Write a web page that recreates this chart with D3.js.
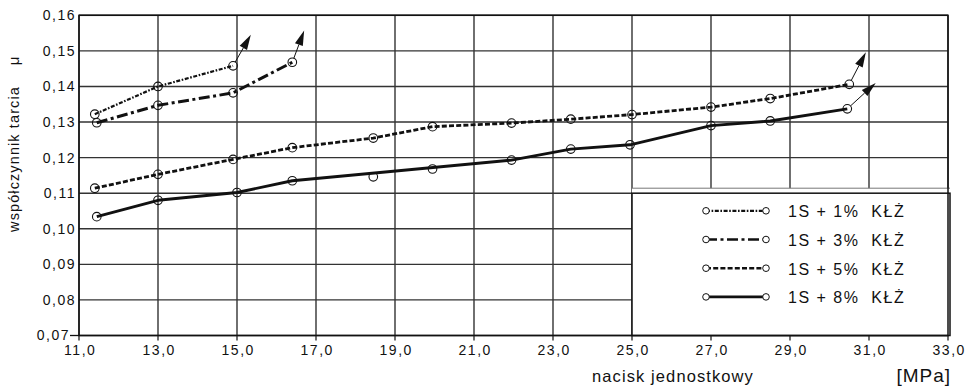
<!DOCTYPE html>
<html>
<head>
<meta charset="utf-8">
<script src="https://d3js.org/d3.v7.min.js"></script>
<style>
  body { margin: 0; background: #fff; }
  svg text { font-family: "Liberation Sans", Arial, sans-serif; fill: #111; }
</style>
</head>
<body>
<svg width="965" height="391"></svg>
<script>
// data
var labels = ["1S + 1%  KŁŻ", "1S + 3%  KŁŻ", "1S + 5%  KŁŻ", "1S + 8%  KŁŻ"];

var s1x = [11.4, 13.0, 14.9];
var s1y = [0.1322, 0.1400, 0.1458];

var s3x = [11.45, 13.0, 14.9, 16.4];
var s3y = [0.1298, 0.1347, 0.1382, 0.1468];

var s5x = [11.4, 13.0, 14.9, 16.4, 18.45, 19.95, 21.95, 23.45, 25.0, 27.0, 28.5, 30.5];
var s5y = [0.1114, 0.1153, 0.1195, 0.1228, 0.1255, 0.1287, 0.1297, 0.1308, 0.1321, 0.1342, 0.1366, 0.1406];

var s8x = [11.45, 13.0, 15.0, 16.4, 18.45, 19.95, 21.95, 23.45, 24.95, 27.0, 28.5, 30.45];
var s8y = [0.1034, 0.1080, 0.1102, 0.1135, 0.1146, 0.1168, 0.1193, 0.1224, 0.1236, 0.1290, 0.1303, 0.1337];
// points 18.45 and 19.95 sit off the drawn line
var s8onLine = [1, 1, 1, 1, 0, 0, 1, 1, 1, 1, 1, 1];

// arrow tips at the end of each curve
var tipX = [15.35, 16.7, 30.92, 31.17];
var tipY = [0.1545, 0.1557, 0.1496, 0.1410];

var xTicks = [11, 13, 15, 17, 19, 21, 23, 25, 27, 29, 31, 33];
var yTicks = [0.07, 0.08, 0.09, 0.10, 0.11, 0.12, 0.13, 0.14, 0.15, 0.16];

function draw() {
  var pl = 79, pr = 948, pt = 15.3, pb = 335.5;

  var svg = d3.select("svg");
  var xs = d3.scaleLinear().domain([11, 33]).range([pl, pr]);
  var ys = d3.scaleLinear().domain([0.07, 0.16]).range([pb, pt]);

  var comma = function(f) { return function(d) { return d3.format(f)(d).replace(".", ","); }; };

  // grid
  svg.append("g").selectAll("line").data(xTicks).enter().append("line")
    .attr("x1", d => xs(d)).attr("x2", d => xs(d))
    .attr("y1", pt).attr("y2", pb + 5)
    .attr("stroke", "#333").attr("stroke-width", 1.4);
  svg.append("g").selectAll("line").data(yTicks).enter().append("line")
    .attr("x1", pl).attr("x2", pr)
    .attr("y1", d => ys(d)).attr("y2", d => ys(d))
    .attr("stroke", "#333").attr("stroke-width", 1.4);

  // legend box (covers grid in lower right)
  var lx0 = xs(25), ly0 = ys(0.11);
  svg.append("rect").attr("x", lx0).attr("y", ly0 - 5).attr("width", 950 - lx0).attr("height", pb - ly0 + 5)
    .attr("fill", "#fff");
  svg.append("line").attr("x1", lx0).attr("x2", 950).attr("y1", ly0 - 5).attr("y2", ly0 - 5)
    .attr("stroke", "#777").attr("stroke-width", 1);
  svg.append("rect").attr("x", lx0).attr("y", ly0).attr("width", 950 - lx0).attr("height", pb - ly0)
    .attr("fill", "none").attr("stroke", "#111").attr("stroke-width", 1.5);

  // frame
  svg.append("rect").attr("x", pl).attr("y", pt).attr("width", pr - pl).attr("height", pb - pt)
    .attr("fill", "none").attr("stroke", "#111").attr("stroke-width", 1.5);

  // axes labels
  var yAx = svg.append("g").attr("transform", "translate(" + pl + ",0)")
    .call(d3.axisLeft(ys).tickValues(yTicks).tickSize(0).tickPadding(5).tickFormat(comma(".2f")));
  yAx.select(".domain").remove();
  yAx.selectAll("text").attr("font-size", "14px").style("letter-spacing", "1.5px")
    .attr("font-family", null).attr("fill", "#111")
    .attr("x", d => d === 0.07 ? -9 : -3);
  svg.append("line").attr("x1", pl - 9).attr("x2", pl).attr("y1", ys(0.07)).attr("y2", ys(0.07))
    .attr("stroke", "#111").attr("stroke-width", 1.3);

  var xAx = svg.append("g").attr("transform", "translate(0," + pb + ")")
    .call(d3.axisBottom(xs).tickValues(xTicks).tickSize(0).tickPadding(10).tickFormat(comma(".1f")));
  xAx.select(".domain").remove();
  xAx.selectAll("text").attr("font-size", "14px").style("letter-spacing", "1.5px")
    .attr("font-family", null).attr("fill", "#111").attr("dx", "0.05em");

  // titles
  svg.append("text").attr("transform", "translate(19,159) rotate(-90)")
    .attr("text-anchor", "middle").attr("font-size", "14.5px").style("letter-spacing", "1.1px")
    .text("współczynnik tarcia");
  svg.append("text").attr("transform", "translate(19,61) rotate(-90)")
    .attr("text-anchor", "middle").attr("font-size", "15px")
    .text("μ");
  svg.append("text").attr("x", 673).attr("y", 381.5)
    .attr("text-anchor", "middle").attr("font-size", "16.5px").style("letter-spacing", "1.1px")
    .text("nacisk jednostkowy");
  svg.append("text").attr("x", 951).attr("y", 382)
    .attr("text-anchor", "end").attr("font-size", "19px").style("letter-spacing", "1px")
    .text("[MPa]");

  // series
  var styles = [
    { dash: "4,1.6,1.6,1.6", w: 2.2 },
    { dash: "11,3.5,3,3.5", w: 3 },
    { dash: "5,2.2", w: 2.8 },
    { dash: null, w: 2.9 }
  ];
  var series = [
    { xv: s1x, yv: s1y, on: s1x.map(() => 1) },
    { xv: s3x, yv: s3y, on: s3x.map(() => 1) },
    { xv: s5x, yv: s5y, on: s5x.map(() => 1) },
    { xv: s8x, yv: s8y, on: s8onLine }
  ];

  var line = d3.line().x(d => xs(d[0])).y(d => ys(d[1]));

  series.forEach(function(s, i) {
    var pts = s.xv.map((x, j) => [x, s.yv[j]]);
    var linePts = pts.filter((p, j) => s.on[j]);
    svg.append("path").datum(linePts).attr("d", line)
      .attr("fill", "none").attr("stroke", "#111").attr("stroke-width", styles[i].w)
      .attr("stroke-dasharray", styles[i].dash).attr("stroke-linejoin", "round");

    svg.append("g").selectAll("circle").data(pts).enter().append("circle")
      .attr("cx", d => xs(d[0])).attr("cy", d => ys(d[1])).attr("r", 4.3)
      .attr("fill", "none").attr("stroke", "#111").attr("stroke-width", 1.1);

    // arrow
    var last = pts[pts.length - 1];
    var x0 = xs(last[0]), y0 = ys(last[1]), x1 = xs(tipX[i]), y1 = ys(tipY[i]);
    var dx = x1 - x0, dy = y1 - y0, len = Math.sqrt(dx * dx + dy * dy);
    var ux = dx / len, uy = dy / len, hl = 15, hw = 4.2;
    svg.append("line").attr("x1", x0 + ux * 4.3).attr("y1", y0 + uy * 4.3)
      .attr("x2", x1 - ux * hl).attr("y2", y1 - uy * hl)
      .attr("stroke", "#111").attr("stroke-width", 1);
    var bx = x1 - ux * hl, by = y1 - uy * hl;
    svg.append("polygon")
      .attr("points", [[x1, y1], [bx - uy * hw, by + ux * hw], [bx + uy * hw, by - ux * hw]].join(" "))
      .attr("fill", "#111");
  });

  // legend
  var lg = svg.append("g");
  labels.forEach(function(t, i) {
    var yy = 217.3 + i * 28.7;
    lg.append("line").attr("x1", 706).attr("x2", 766).attr("y1", yy - 6.5).attr("y2", yy - 6.5)
      .attr("stroke", "#111").attr("stroke-width", Math.min(styles[i].w, 2.6))
      .attr("stroke-dasharray", styles[i].dash);
    [706, 766].forEach(function(cx) {
      lg.append("circle").attr("cx", cx).attr("cy", yy - 6.5).attr("r", 3.3)
        .attr("fill", "#fff").attr("stroke", "#111").attr("stroke-width", 1);
    });
    lg.append("text").attr("x", 788).attr("y", yy).attr("font-size", "16px")
      .style("letter-spacing", "1.5px").style("white-space", "pre").text(t);
  });
}
draw();
</script>
</body>
</html>
